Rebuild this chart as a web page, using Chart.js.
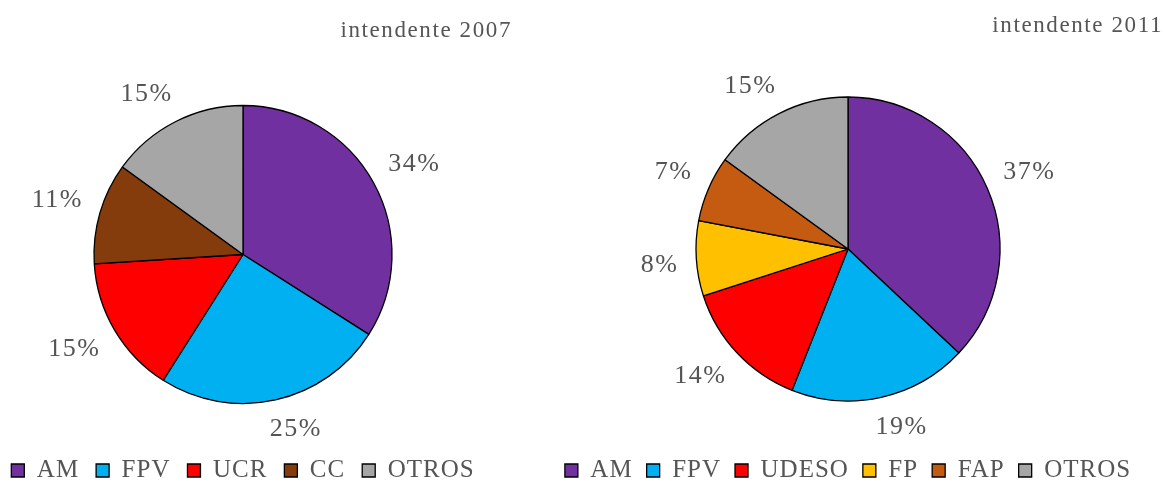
<!DOCTYPE html>
<html>
<head>
<meta charset="utf-8">
<script src="https://cdn.jsdelivr.net/npm/chart.js@4"></script>
<style>
  html, body { margin: 0; padding: 0; background: #fff; overflow: hidden; }
  .box { position: absolute; top: 0; height: 484px; }
</style>
</head>
<body>
<div class="box" style="left:-20px;width:540px"><canvas id="pie2007"></canvas></div>
<div class="box" style="left:530px;width:636px"><canvas id="pie2011"></canvas></div>
<script>
// data
const categories2007 = ['AM', 'FPV', 'UCR', 'CC', 'OTROS'];
const values2007     = [34, 25, 15, 11, 15];
const colors2007     = ['#7030A0', '#00B0F0', '#FF0000', '#843C0C', '#A6A6A6'];

const categories2011 = ['AM', 'FPV', 'UDESO', 'FP', 'FAP', 'OTROS'];
const values2011     = [37, 19, 14, 8, 7, 15];
const colors2011     = ['#7030A0', '#00B0F0', '#FF0000', '#FFC000', '#C55A11', '#A6A6A6'];

const FONT = '"Liberation Serif", "Times New Roman", serif';
const TEXT = '#555555';

// a little letter spacing so the serif text is as wide as in the picture
const spacing = {
  id: 'spacing',
  beforeLayout(chart) { chart.ctx.letterSpacing = '1px'; },
  beforeDraw(chart)   { chart.ctx.letterSpacing = '1px'; }
};

// soft "corner" offset: pushes the label box away from the ray, Excel style
function soft(u, p) {
  return Math.sign(u) * Math.pow(Math.abs(u), p);
}

// percent labels outside each slice + the title text
const outsideLabels = {
  id: 'outsideLabels',
  afterDatasetsDraw(chart, args, opts) {
    const ctx = chart.ctx;
    const meta = chart.getDatasetMeta(0);
    const data = chart.data.datasets[0].data;
    const total = data.reduce((a, b) => a + b, 0);
    ctx.save();
    ctx.letterSpacing = '1.5px';
    ctx.fillStyle = TEXT;
    ctx.font = '26px ' + FONT;
    ctx.textAlign = 'center';
    ctx.textBaseline = 'middle';
    let cx0 = 0;
    meta.data.forEach((arc, i) => {
      const p = arc.getProps(['x', 'y', 'startAngle', 'endAngle', 'outerRadius'], true);
      cx0 = p.x;
      const a = (p.startAngle + p.endAngle) / 2;
      const ux = Math.cos(a), uy = Math.sin(a);
      const txt = Math.round(data[i] / total * 100) + '%';
      const w = ctx.measureText(txt).width;
      const d = p.outerRadius + opts.gap;
      const x = p.x + ux * d + soft(ux, 0.3) * w / 2;
      const y = p.y + uy * d + soft(uy, 0.3) * 12;
      ctx.fillText(txt, x, y);
    });
    // title, right aligned, offset from the pie centre
    ctx.font = '23px ' + FONT;
    ctx.letterSpacing = '1.6px';
    ctx.textAlign = 'right';
    ctx.fillText(opts.title, cx0 + opts.titleDx, opts.titleY);
    ctx.restore();
  }
};

function makePie(canvasId, labels, values, colors, radius, pad, legendPad, title, titleDx, titleY) {
  return new Chart(document.getElementById(canvasId), {
    type: 'pie',
    data: {
      labels: labels,
      datasets: [{
        data: values,
        backgroundColor: colors,
        borderColor: '#000',
        borderWidth: 1.3
      }]
    },
    options: {
      responsive: true,
      maintainAspectRatio: false,
      animation: false,
      radius: radius,
      layout: { padding: pad },
      plugins: {
        legend: {
          position: 'bottom',
          labels: {
            color: TEXT,
            font: { family: FONT, size: 25 },
            boxWidth: 13,
            boxHeight: 13,
            padding: legendPad
          }
        },
        tooltip: { enabled: false },
        outsideLabels: { gap: 18, title: title, titleDx: titleDx, titleY: titleY }
      }
    },
    plugins: [spacing, outsideLabels]
  });
}

makePie('pie2007', categories2007, values2007, colors2007, 149,
  { top: 68, right: 14, left: 0, bottom: -9 }, 17, 'intendente 2007', 269, 31);
makePie('pie2011', categories2011, values2011, colors2011, 152,
  { top: 54, right: 0, left: 0, bottom: -9 }, 14, 'intendente 2011', 315, 26);
</script>
</body>
</html>
